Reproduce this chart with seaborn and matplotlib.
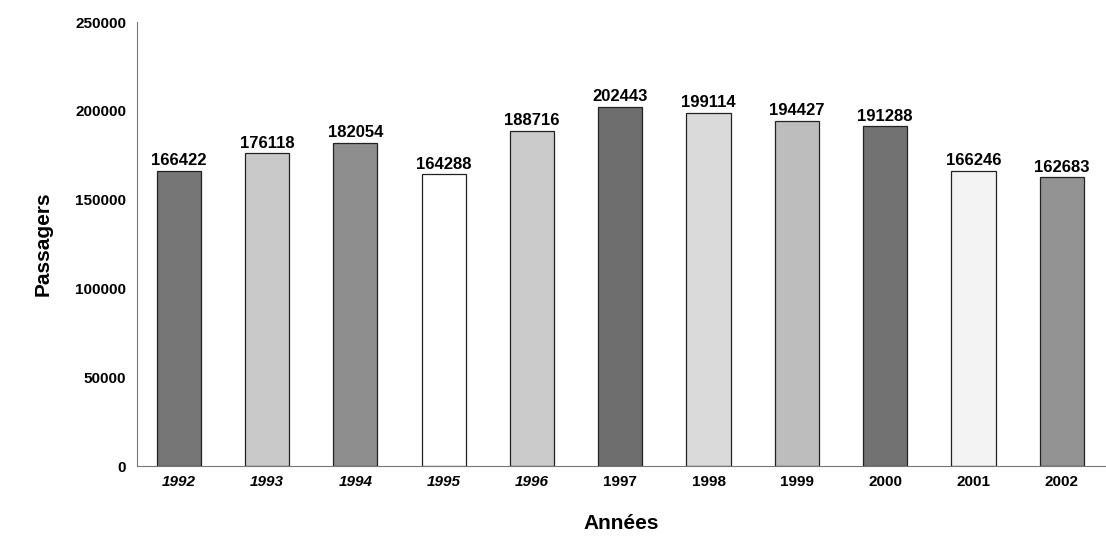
import numpy as np
import pandas as pd
import matplotlib
matplotlib.use("Agg")
import matplotlib.pyplot as plt
import seaborn as sns

# Passagers par année
annees = ['1992', '1993', '1994', '1995', '1996', '1997', '1998', '1999', '2000', '2001', '2002']
passagers = [166422, 176118, 182054, 164288, 188716, 202443, 199114, 194427, 191288, 166246, 162683]
gris = ['#767676', '#c9c9c9', '#8e8e8e', '#ffffff', '#cbcbcb', '#6e6e6e',
        '#dadada', '#bdbdbd', '#727272', '#f3f3f3', '#939393']
italique = [True, True, True, True, True, False, False, False, False, False, False]

df = pd.DataFrame({'Annee': annees, 'Passagers': passagers})

sns.set_style('white')
plt.rcParams['font.family'] = ['Liberation Sans', 'DejaVu Sans']
plt.rcParams['text.color'] = 'black'
plt.rcParams['axes.labelcolor'] = 'black'
plt.rcParams['xtick.color'] = 'black'
plt.rcParams['ytick.color'] = 'black'

fig = plt.figure(figsize=(11.06, 5.39), dpi=100)
ax = fig.add_axes([0.124, 0.135, 0.876, 0.824])

sns.barplot(data=df, x='Annee', y='Passagers', hue='Annee', palette=gris,
            legend=False, width=0.5, edgecolor='#222222', linewidth=0.9, ax=ax)

for i, v in enumerate(passagers):
    ax.text(i, v + 1500, str(v), ha='center', va='bottom', fontsize=12, fontweight='bold')

ax.set_ylim(0, 250000)
ax.set_xlim(-0.47, 10.5)
ax.set_yticks(range(0, 250001, 50000))
ax.set_yticklabels([str(t) for t in range(0, 250001, 50000)], fontsize=11, fontweight='bold')

ax.set_xticks(range(len(annees)))
ax.set_xticklabels(annees, fontsize=11, fontweight='bold')
for lab, it in zip(ax.get_xticklabels(), italique):
    if it:
        lab.set_style('italic')
# petites graduations entre les barres
ax.set_xticks(np.arange(0.5, 10.5, 1), minor=True)
ax.tick_params(axis='x', which='major', length=0, pad=6)
ax.tick_params(axis='x', which='minor', length=5, direction='inout', color='#555555')
ax.tick_params(axis='y', length=5, direction='out', color='#555555', pad=3)

for s in ['top', 'right']:
    ax.spines[s].set_visible(False)
ax.spines['left'].set_color('#777777')
ax.spines['left'].set_linewidth(0.8)
ax.spines['left'].set_linestyle((0, (6, 1)))
ax.spines['bottom'].set_color('#777777')
ax.spines['bottom'].set_linewidth(0.8)

ax.set_xlabel('Années', fontsize=15, fontweight='bold', labelpad=18)
ax.set_ylabel('Passagers', fontsize=15, fontweight='bold', labelpad=16)

fig.savefig('out.png', dpi=100)
